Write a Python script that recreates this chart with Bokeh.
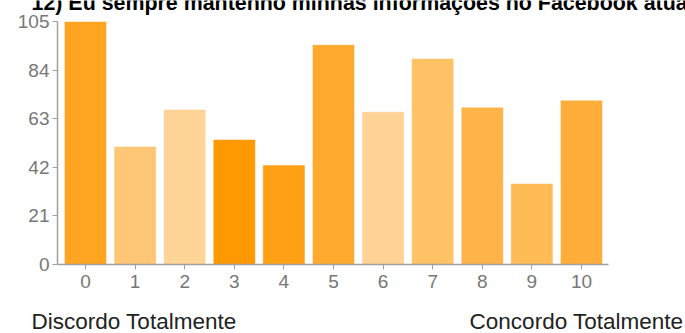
from bokeh.plotting import figure
from bokeh.models import FixedTicker, Range1d, ColumnDataSource, Label
from bokeh.embed import file_html
from bokeh.resources import INLINE

# Survey answers on a 0-10 agreement scale
categories = list(range(11))
counts = [105, 51, 67, 54, 43, 95, 66, 89, 68, 35, 71]
bar_colors = ["#FFA521", "#FFC675", "#FFD597", "#FF9900", "#FFA015", "#FFAA2E",
              "#FFD395", "#FFC366", "#FFB349", "#FFBB55", "#FFAE3A"]
y_ticks = [0, 21, 42, 63, 84, 105]
title_text = "12) Eu sempre mantenho minhas informações no Facebook atualizadas"
left_caption = "Discordo Totalmente"
right_caption = "Concordo Totalmente"

FONT = "Liberation Sans"

# The plotting frame spans the whole canvas; the axes are pinned at the
# data origin so the title and the scale captions can sit around them.
X_MIN, X_MAX = -0.565, 10.545
p = figure(width=685, height=333, output_backend="svg", toolbar_location=None,
           x_range=Range1d(-1.714, 12.097), y_range=Range1d(-29.82, 114.09),
           min_border=0, min_border_left=0, min_border_right=0,
           min_border_top=0, min_border_bottom=0)
p.outline_line_color = None
p.xgrid.visible = False
p.ygrid.visible = False
p.background_fill_color = "white"
p.border_fill_color = "white"

src = ColumnDataSource(dict(x=categories, top=counts, color=bar_colors))
p.vbar(x="x", top="top", width=0.85, bottom=0, source=src,
       fill_color="color", line_color="#FFFFFF", line_alpha=0.5, line_width=1)

for ax in (p.xaxis[0], p.yaxis[0]):
    ax.axis_line_color = "#A0A0A0"
    ax.axis_line_width = 1.5
    ax.major_tick_line_color = "#A0A0A0"
    ax.major_tick_out = 5
    ax.major_tick_in = 0
    ax.minor_tick_line_color = None
    ax.major_label_text_font = FONT
    ax.major_label_text_font_size = "19px"
    ax.major_label_text_color = "#777777"

p.xaxis[0].ticker = FixedTicker(ticks=categories)
p.xaxis[0].major_label_standoff = 6
p.xaxis[0].fixed_location = 0
p.xaxis[0].bounds = (X_MIN, X_MAX)

p.yaxis[0].ticker = FixedTicker(ticks=y_ticks)
p.yaxis[0].major_label_standoff = 3
p.yaxis[0].fixed_location = X_MIN
p.yaxis[0].bounds = (0, 105)

# Question title, running past the top and right edges
p.add_layout(Label(x=-1.089, y=113.2, text=title_text, text_font=FONT,
                   text_font_style="bold", text_font_size="21.4px",
                   text_color="#000000", text_baseline="alphabetic",
                   text_align="left"))

# Ends of the agreement scale
p.add_layout(Label(x=-1.089, y=-24.6, text=left_caption, text_font=FONT,
                   text_font_size="22.5px", text_color="#222222",
                   text_baseline="alphabetic", text_align="left"))
p.add_layout(Label(x=12.056, y=-24.6, text=right_caption, text_font=FONT,
                   text_font_size="22.5px", text_color="#222222",
                   text_baseline="alphabetic", text_align="right"))

open("out.html", "w").write(file_html(p, INLINE))
